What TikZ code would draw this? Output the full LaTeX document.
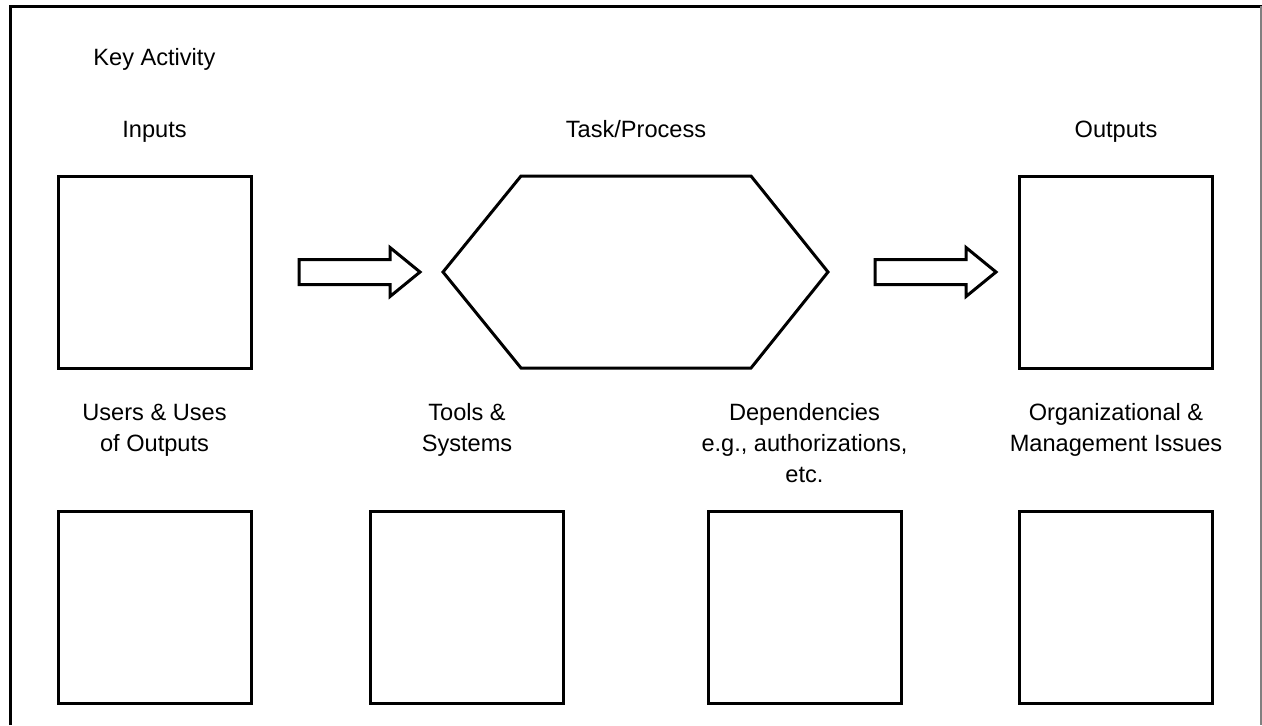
\documentclass[tikz,border=0pt]{standalone}
\usepackage{fontspec}
\setmainfont{Liberation Sans}
\usetikzlibrary{positioning}

\begin{document}
\begin{tikzpicture}[x=0.5pt, y=-0.5pt,
  box/.style={draw, line width=1.5pt, minimum width=96.5pt, minimum height=96pt, inner sep=0pt},
  lbl/.style={align=center, font=\fontsize{11.8}{15.5}\selectfont, anchor=base},
  fatarrow/.style={draw, line width=1.5pt, line join=miter}]
  \useasboundingbox (0,0) rectangle (1262,725);
  % frame
  \draw[line width=1.5pt] (10,725) -- (10,6) -- (1262,6);
  \draw[gray, line width=0.8pt] (1261,6) -- (1261,725);
  \node[lbl, anchor=base west, inner sep=0pt] (key) at (93,65) {Key Activity};
  % top row
  \node[lbl] (inlbl) at (154.5,137) {Inputs};
  \node[lbl] (tasklbl) at (636,137) {Task/Process};
  \node[lbl] (outlbl) at (1116,137) {Outputs};
  \node[box] (inputs) at (154.5,272) {};
  \draw[line width=1.5pt] (443,272) -- (521,176) -- (751,176) -- (828,272) -- (751,368) -- (521,368) -- cycle;
  \node[box] (outputs) at (1116,272) {};
  % block arrows
  \coordinate (arrA) at (299,272);
  \coordinate (arrB) at (875,272);
  \foreach \a in {arrA,arrB}
    \draw[fatarrow] (\a) ++(0,-12.5) -- ++(91,0) -- ++(0,-12) -- ++(30,24.5)
      -- ++(-30,24.5) -- ++(0,-12) -- ++(-91,0) -- cycle;
  % bottom row
  \node[lbl] (userslbl) at (154.5,451) {Users \& Uses\\of Outputs};
  \node[lbl] (toolslbl) at (467,451) {Tools \&\\Systems};
  \node[lbl] (deplbl) at (804.5,482) {Dependencies\\e.g., authorizations,\\etc.};
  \node[lbl] (orglbl) at (1116,451) {Organizational \&\\Management Issues};
  \node[box] (users) at (154.5,607) {};
  \node[box] (tools) at (467,607) {};
  \node[box] (deps) at (804.5,607) {};
  \node[box] (org) at (1116,607) {};
\end{tikzpicture}
\end{document}
